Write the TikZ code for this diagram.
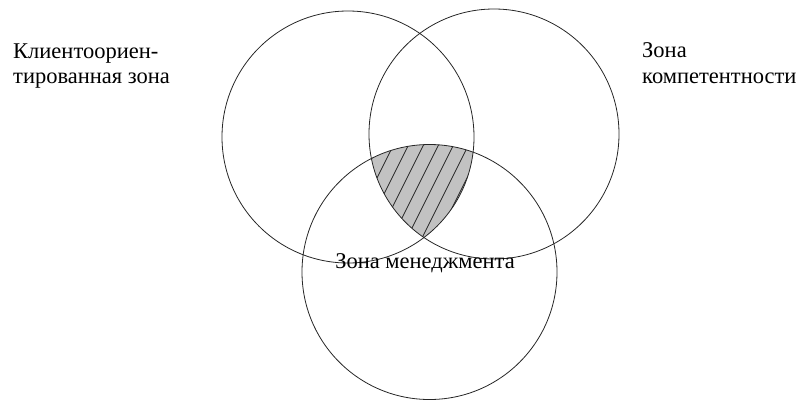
\documentclass[tikz,border=0pt]{standalone}
\usepackage{fontspec}
\setmainfont{Liberation Serif}
\begin{document}
\begin{tikzpicture}[x=1pt,y=-1pt,
  ring/.style={circle,draw=black!85,line width=0.8pt,inner sep=0pt,minimum size=#1},
  lbl/.style={font=\fontsize{22.5}{25}\selectfont,inner sep=0pt,align=left},
  hatchline/.style={line width=0.7pt,black!85}]
\useasboundingbox (0,0) rectangle (798,400);
% hatched common zone
\begin{scope}
  \clip (348,137) circle[radius=126];
  \clip (494,134) circle[radius=125];
  \clip (429.5,272) circle[radius=127.5];
  \fill[black!24] (300,100) rectangle (560,300);
  \foreach \i in {-5,...,12}{
    \draw[hatchline] ({392+15*\i+0.5*40},108) -- ({392+15*\i-0.5*(300-148)},300);
  }
\end{scope}
\node[ring=252pt] (L) at (348,137) {};
\node[ring=250pt] (R) at (494,134) {};
\node[ring=255pt] (B) at (429.5,272) {};
\node[lbl,anchor=base west] (tl) at (13,58) {Клиентоориен-};
\node[lbl,anchor=base west] (tl2) at (13,83) {тированная зона};
\node[lbl,anchor=base west] (tr) at (642,57) {Зона};
\node[lbl,anchor=base west] (tr2) at (642,83) {компетентности};
\node[lbl,anchor=base] (tb) at (425,268) {Зона менеджмента};
\end{tikzpicture}
\end{document}
